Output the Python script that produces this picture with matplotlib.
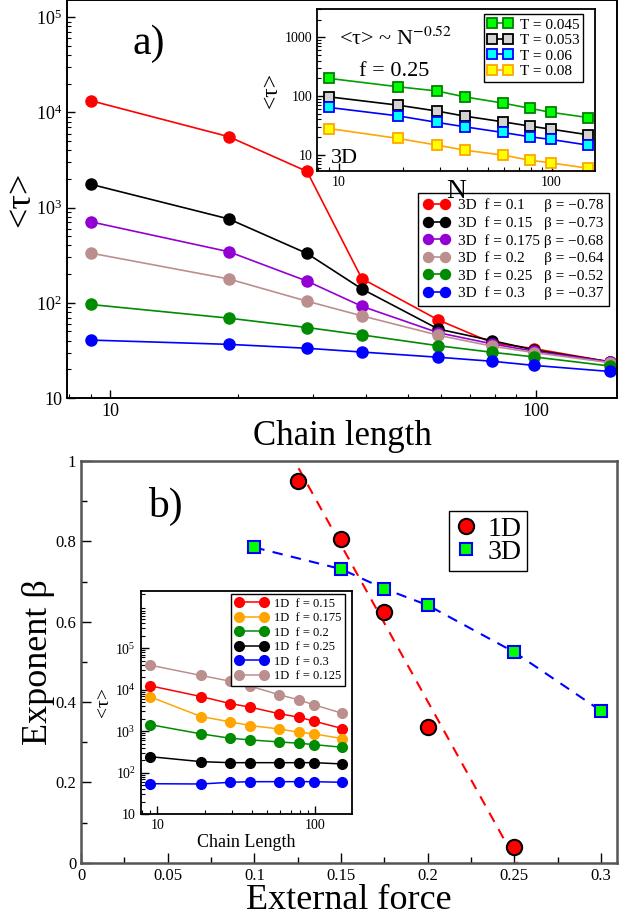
import matplotlib
matplotlib.use("Agg")
import matplotlib.pyplot as plt
from matplotlib.ticker import LogLocator, FuncFormatter, NullFormatter, MultipleLocator, FormatStrFormatter, FixedLocator

plt.rcParams['font.family'] = ['Liberation Serif', 'DejaVu Serif']
plt.rcParams['mathtext.fontset'] = 'stix'

# ---------------- data ----------------
N = [9, 19, 29, 39, 59, 79, 99, 149]

# panel a) main: 3D, various f
f3d_labels = ["0.1", "0.15", "0.175", "0.2", "0.25", "0.3"]
beta3d_labels = ["\u22120.78", "\u22120.73", "\u22120.68", "\u22120.64", "\u22120.52", "\u22120.37"]
tau_f010 = [13300, 5560, 2400, 180, 66, 38, 33, 24]
tau_f015 = [1760, 760, 330, 140, 53, 40, 32, 24]
tau_f0175 = [710, 344, 169, 92, 48.5, 37, 31, 24]
tau_f020 = [333, 178, 104, 73, 45.6, 35, 30, 23.5]
tau_f025 = [96, 69, 55, 46, 35.4, 30.2, 27, 21.7]
tau_f030 = [40.6, 36.6, 33.3, 30.4, 26.8, 24.3, 22, 19]

# panel a) inset: 3D, f = 0.25, various T
T_labels = ["0.045", "0.053", "0.06", "0.08"]
tau_T0045 = [200, 144, 122, 97, 76, 62, 53, 43]
tau_T0053 = [97, 70, 55.5, 45.6, 36.5, 30.8, 27.4, 21.9]
tau_T006 = [64, 46, 35.6, 30, 24, 20.3, 18.3, 14.6]
tau_T008 = [28, 19, 14.6, 12, 9.9, 8.1, 7.3, 5.9]

# panel b) main: exponent beta vs force
f_1d = [0.125, 0.15, 0.175, 0.2, 0.25]
beta_1d = [0.95, 0.806, 0.625, 0.337, 0.04]
f_3d = [0.1, 0.15, 0.175, 0.2, 0.25, 0.3]
beta_3d = [0.785, 0.731, 0.682, 0.641, 0.524, 0.378]
fit1d_x = [0.1255, 0.2515]
fit1d_y = [0.982, 0.0]

# panel b) inset: 1D, various f
f1d_labels = ["0.15", "0.175", "0.2", "0.25", "0.3", "0.125"]
tau1d_f015 = [12400, 6800, 4630, 3780, 2650, 2170, 1740, 1160]
tau1d_f0175 = [6710, 2250, 1680, 1365, 1135, 946, 861, 663]
tau1d_f020 = [1440, 861, 678, 617, 552, 514, 475, 411]
tau1d_f025 = [244, 185, 175, 175, 175, 175, 175, 163]
tau1d_f030 = [54.5, 53.7, 59, 61, 61, 61, 61, 59]
tau1d_f0125 = [38900, 21900, 16000, 12100, 7600, 5680, 4300, 2700]

# ---------------- figure ----------------
fig = plt.figure(figsize=(6.38, 9.16), dpi=100)


def logfmt(v, pos):
    import math
    e = int(round(math.log10(v)))
    if e == 1:
        return "10"
    return r"$\mathregular{10^{%d}}$" % e


def style_log_axis(ax, fs, lw=1.4):
    ax.set_xscale('log')
    ax.set_yscale('log')
    ax.xaxis.set_major_locator(LogLocator(base=10, numticks=10))
    ax.xaxis.set_minor_locator(LogLocator(base=10, subs=range(2, 10), numticks=20))
    ax.yaxis.set_major_locator(LogLocator(base=10, numticks=10))
    ax.yaxis.set_minor_locator(LogLocator(base=10, subs=range(2, 10), numticks=20))
    ax.xaxis.set_minor_formatter(NullFormatter())
    ax.yaxis.set_minor_formatter(NullFormatter())
    ax.tick_params(which='both', direction='in', top=False, right=False, labelsize=fs)
    ax.tick_params(which='major', length=6, width=1)
    ax.tick_params(which='minor', length=3, width=0.8)
    for s in ax.spines.values():
        s.set_linewidth(lw)


# ===== panel a) main =====
axA = fig.add_axes([0.105, 0.5655, 0.862, 0.434])
style_log_axis(axA, 13)
axA.xaxis.set_major_formatter(FuncFormatter(lambda v, p: "%d" % round(v)))
axA.yaxis.set_major_formatter(FuncFormatter(logfmt))
colsA = ['#ff0000', '#000000', '#9400d3', '#bc8f8f', '#008b00', '#0000ff']
seriesA = [tau_f010, tau_f015, tau_f0175, tau_f020, tau_f025, tau_f030]
pad_sp = {"0.1": 5, "0.15": 3, "0.175": 1, "0.2": 5, "0.25": 3, "0.3": 5}
handlesA = []
for c, s, fl, bl in zip(colsA, seriesA, f3d_labels, beta3d_labels):
    h, = axA.plot(N, s, '-o', color=c, ms=8, lw=1.2, mec=c, mfc=c,
                  label="3D  f = " + fl + " " * pad_sp[fl] + "\u03b2 = " + bl)
    handlesA.append(h)
axA.set_xlim(7.92, 155)
axA.set_ylim(10, 1.5e5)
axA.set_xlabel("Chain length", fontsize=25, labelpad=0)
axA.set_ylabel("<\u03c4>", fontsize=26, labelpad=-1)
axA.text(0.12, 0.865, "a)", transform=axA.transAxes, fontsize=30)
legA = axA.legend(handles=handlesA, loc='upper right', bbox_to_anchor=(0.986, 0.515),
                  borderaxespad=0, fontsize=11, numpoints=2, handlelength=1.7,
                  markerscale=0.9,
                  fancybox=False, framealpha=1, edgecolor='black', labelspacing=0.25,
                  handletextpad=0.6, borderpad=0.35)
legA.get_frame().set_linewidth(1.0)

# ===== panel a) inset =====
axAi = fig.add_axes([0.4973, 0.8133, 0.4353, 0.1765])
style_log_axis(axAi, 10, lw=1.3)
axAi.xaxis.set_major_formatter(FuncFormatter(lambda v, p: "%d" % round(v)))
axAi.yaxis.set_major_formatter(FuncFormatter(lambda v, p: "%d" % round(v)))
ins_line = ['#00a000', '#000000', '#0000ff', '#ffa500']
ins_face = ['#00ff00', '#d3d3d3', '#00ffff', '#ffff00']
ins_edge = ['#008000', '#000000', '#0000ff', '#ffa500']
seriesAi = [tau_T0045, tau_T0053, tau_T006, tau_T008]
for lc, fc, ec, s, tl in zip(ins_line, ins_face, ins_edge, seriesAi, T_labels):
    axAi.plot(N, s, '-s', color=lc, mfc=fc, mec=ec, ms=7, mew=1.3, lw=1.2,
              label="T = " + tl)
axAi.set_xlim(7.9, 160)
axAi.set_ylim(5.3, 3000)
axAi.set_xlabel("N", fontsize=20, labelpad=-7)
axAi.set_ylabel("<\u03c4>", fontsize=17, labelpad=2)
axAi.text(0.08, 0.78, "<\u03c4> ~ N$^{-0.52}$", transform=axAi.transAxes, fontsize=16)
axAi.text(0.15, 0.59, "f = 0.25", transform=axAi.transAxes, fontsize=16)
axAi.text(0.05, 0.05, "3D", transform=axAi.transAxes, fontsize=16)
legAi = axAi.legend(loc='upper right', bbox_to_anchor=(0.958, 0.971), borderaxespad=0,
                    fontsize=11, numpoints=2, handlelength=1.6, fancybox=False,
                    framealpha=1, edgecolor='black', labelspacing=0.12,
                    handletextpad=0.5, borderpad=0.25)
legAi.get_frame().set_linewidth(1.0)

# ===== panel b) main =====
axB = fig.add_axes([0.127, 0.0582, 0.8396, 0.4385])
axB.plot(fit1d_x, fit1d_y, '--', color='#ff0000', lw=1.5, dashes=(5, 4))
axB.plot(f_3d, beta_3d, '--', color='#0000ff', lw=1.5, dashes=(5, 4))
axB.plot(f_1d, beta_1d, 'o', ls='none', mfc='#ff0000', mec='black', mew=1.5, ms=11, label="1D")
axB.plot(f_3d, beta_3d, 's', ls='none', mfc='#00ff00', mec='#0000ff', mew=1.5, ms=8.5, label="3D")
axB.set_xlim(0, 0.309)
axB.set_ylim(0, 1)
axB.xaxis.set_major_locator(MultipleLocator(0.05))
axB.xaxis.set_minor_locator(MultipleLocator(0.025))
axB.yaxis.set_major_locator(MultipleLocator(0.2))
axB.yaxis.set_minor_locator(MultipleLocator(0.1))
axB.xaxis.set_major_formatter(FormatStrFormatter('%g'))
axB.yaxis.set_major_formatter(FormatStrFormatter('%g'))
axB.tick_params(which='both', direction='in', top=False, right=False, labelsize=12)
axB.tick_params(which='major', length=7, width=1)
axB.tick_params(which='minor', length=4, width=1)
for s in axB.spines.values():
    s.set_linewidth(1.8)
    s.set_color('#555555')
axB.set_xlabel("External force", fontsize=26, labelpad=0)
axB.set_ylabel("Exponent \u03b2", fontsize=26, labelpad=0)
axB.text(0.125, 0.86, "b)", transform=axB.transAxes, fontsize=30)
legB = axB.legend(loc='upper left', bbox_to_anchor=(0.687, 0.876), borderaxespad=0,
                  fontsize=20, numpoints=1, handlelength=0.8, fancybox=False,
                  framealpha=1, edgecolor='black', labelspacing=-0.08,
                  handletextpad=0.4, borderpad=0.2)
legB.get_frame().set_linewidth(1.0)

# ===== panel b) inset =====
axBi = fig.add_axes([0.2205, 0.111, 0.3307, 0.2441])
style_log_axis(axBi, 10, lw=1.3)
axBi.yaxis.set_major_locator(FixedLocator([10, 1e2, 1e3, 1e4, 1e5]))
axBi.xaxis.set_major_formatter(FuncFormatter(lambda v, p: "%d" % round(v)))
axBi.yaxis.set_major_formatter(FuncFormatter(logfmt))
colsBi = ['#ff0000', '#ffa500', '#008b00', '#000000', '#0000ff', '#bc8f8f']
seriesBi = [tau1d_f015, tau1d_f0175, tau1d_f020, tau1d_f025, tau1d_f030, tau1d_f0125]
for c, s, fl in zip(colsBi, seriesBi, f1d_labels):
    axBi.plot(N, s, '-o', color=c, mfc=c, mec=c, ms=7, lw=1.1, label="1D  f = " + fl)
axBi.set_xlim(7.85, 171)
axBi.set_ylim(10, 2.4e6)
axBi.set_xlabel("Chain Length", fontsize=13, labelpad=1)
axBi.set_ylabel("<\u03c4>", fontsize=14, labelpad=2)
legBi = axBi.legend(loc='upper right', bbox_to_anchor=(0.968, 0.985), borderaxespad=0,
                    fontsize=9, numpoints=2, handlelength=2.6, fancybox=False,
                    framealpha=1, edgecolor='black', labelspacing=0.2,
                    handletextpad=0.5, borderpad=0.3)
legBi.get_frame().set_linewidth(1.0)

fig.savefig("out.png", dpi=100)
